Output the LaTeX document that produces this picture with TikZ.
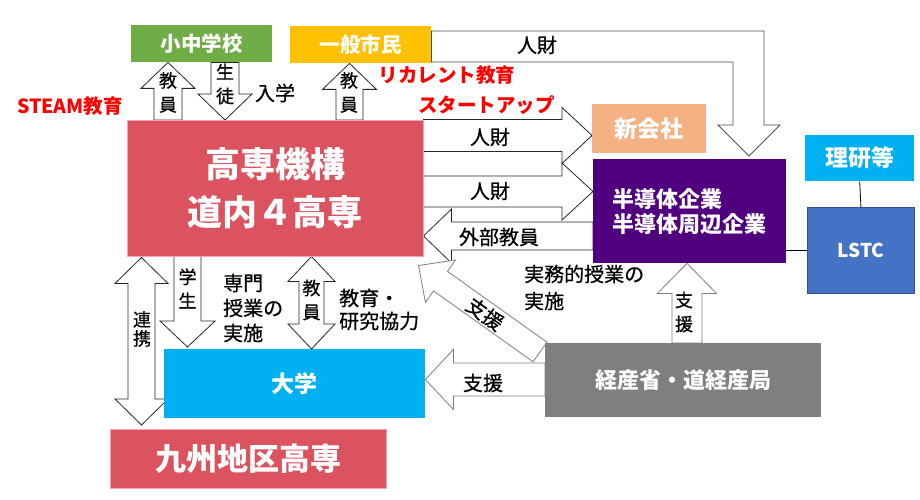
\documentclass[tikz,border=0pt]{standalone}
\usepackage{fontspec}
\setmainfont{Noto Sans CJK JP}
\newfontfamily\lblf[FakeBold=0.6]{Noto Sans CJK JP}
\usetikzlibrary{calc}
\definecolor{kred}{RGB}{220,83,96}
\definecolor{kgreen}{RGB}{112,173,71}
\definecolor{kyellow}{RGB}{255,192,0}
\definecolor{korange}{RGB}{244,177,131}
\definecolor{kpurple}{RGB}{80,0,126}
\definecolor{kcyan}{RGB}{0,176,240}
\definecolor{kblue}{RGB}{68,114,196}
\definecolor{kblueline}{RGB}{47,82,143}
\definecolor{kgray}{RGB}{127,127,127}
\definecolor{kpink}{RGB}{245,160,190}
\newcommand{\myfs}[2]{\fontsize{#1}{#2}\selectfont}
\pgfdeclarelayer{bgl}
\pgfdeclarelayer{arr}
\pgfsetlayers{bgl,arr,main}
\tikzset{
  box/.style={rectangle, inner sep=0pt, anchor=north west, text=white, align=center},
  lbl/.style={inner sep=0pt, align=left, font=\lblf\myfs{20}{25}},
  vlbl/.style={inner sep=0pt, align=center, font=\lblf\myfs{18}{24}},
  redlbl/.style={inner sep=0pt, text=red, font=\bfseries\myfs{19.5}{24}},
  blockarrow/.style={fill=white, draw=black!85, line width=0.8pt, line join=miter},
  grayarrow/.style={draw=kgray},
}
\newcommand{\blkarrow}[6][]{%
  \coordinate (bh) at ($(#3)!#6!(#2)$);
  \draw[blockarrow,#1] ($(#2)!#4!90:(#3)$) -- ($(bh)!#4!-90:(#2)$) -- ($(bh)!#5!-90:(#2)$) -- (#3) -- ($(bh)!#5!90:(#2)$) -- ($(bh)!#4!90:(#2)$) -- ($(#2)!#4!-90:(#3)$) -- cycle;}
\newcommand{\dblarrow}[6][]{%
  \coordinate (bhe) at ($(#3)!#6!(#2)$);
  \coordinate (bhs) at ($(#2)!#6!(#3)$);
  \draw[blockarrow,#1] (#2) -- ($(bhs)!#5!90:(#3)$) -- ($(bhs)!#4!90:(#3)$) -- ($(bhe)!#4!-90:(#2)$) -- ($(bhe)!#5!-90:(#2)$) -- (#3) -- ($(bhe)!#5!90:(#2)$) -- ($(bhe)!#4!90:(#2)$) -- ($(bhs)!#4!-90:(#3)$) -- ($(bhs)!#5!-90:(#3)$) -- cycle;}
\begin{document}
\begin{tikzpicture}[x=1pt,y=-1pt]
\begin{pgfonlayer}{bgl}
\fill[white] (0,0) rectangle (920,500);
\end{pgfonlayer}
\useasboundingbox (0,0) rectangle (920,500);

% boxes
\node[box, fill=kgreen, minimum width=141pt, minimum height=37pt, font=\bfseries\myfs{20.5}{24}] (shou) at (131,25) {小中学校};
\node[box, fill=kyellow, minimum width=141pt, minimum height=37pt, font=\bfseries\myfs{20.5}{24}] (ippan) at (290,26) {一般市民};
\node[box, fill=kred, draw=kpink, line width=0.5pt, minimum width=296pt, minimum height=136pt, font=\bfseries\myfs{35}{48}] (kosen) at (127,120) {高専機構\\道内４高専};
\node[box, fill=korange, minimum width=114pt, minimum height=49pt, font=\bfseries\myfs{23}{26}] (shin) at (592,104) {新会社};
\node[box, fill=kpurple, minimum width=193pt, minimum height=104pt, align=left, font=\bfseries\myfs{22}{25}] (han) at (593,159) {半導体企業\\半導体周辺企業};
\node[box, fill=kcyan, minimum width=109pt, minimum height=46pt, font=\bfseries\myfs{23}{26}] (riken) at (805,135) {理研等};
\node[box, fill=kblue, draw=kblueline, line width=0.8pt, minimum width=107pt, minimum height=86pt, font=\bfseries\myfs{19}{22}] (lstc) at (807,207) {LSTC};
\node[box, fill=kcyan, minimum width=261pt, minimum height=69pt, font=\bfseries\myfs{23}{26}] (dai) at (164,349) {大学};
\node[box, fill=kred, draw=kpink, line width=0.5pt, minimum width=276pt, minimum height=59pt, font=\bfseries\myfs{31}{34}] (kyushu) at (110,429) {九州地区高専};
\node[box, fill=kgray, minimum width=276pt, minimum height=74pt, font=\bfseries\myfs{22}{25}] (keisan) at (545,343) {経産省・道経産局};

% plain connectors
\draw[black, line width=0.8pt] (lstc.west -| han.east) -- (lstc.west);
\draw[black, line width=0.8pt] (riken.south) -- (lstc.north);

% arrow end points
\coordinate (a1s) at (168,0 |- kosen.north);
\coordinate (a1e) at (168,0 |- shou.south);
\coordinate (a2s) at (225,0 |- shou.south);
\coordinate (a2e) at (225,0 |- kosen.north);
\coordinate (a3s) at (349.5,0 |- kosen.north);
\coordinate (a3e) at (349.5,0 |- ippan.south);
\coordinate (a4s) at (kosen.east |- 0,135.5);
\coordinate (a4e) at (shin.west |- 0,135.5);
\coordinate (a5s) at (kosen.east |- 0,191.5);
\coordinate (a5e) at (han.west |- 0,191.5);
\coordinate (a6s) at (han.west |- 0,236);
\coordinate (a6e) at (kosen.east |- 0,236);
\coordinate (a7s) at ($(keisan.north west)+(-5,9)$);
\coordinate (a7e) at ($(kosen.south east)+(-5,9)$);
\coordinate (a8s) at (keisan.west |- 0,379.5);
\coordinate (a8e) at (dai.east |- 0,379.5);
\coordinate (a9s) at (687,0 |- keisan.north);
\coordinate (a9e) at (687,0 |- han.south);
\coordinate (a10s) at (187.5,0 |- kosen.south);
\coordinate (a10e) at ($(187.5,0 |- dai.north)+(0,-2)$);
\coordinate (a11s) at (311.5,0 |- kosen.south);
\coordinate (a11e) at (311.5,0 |- dai.north);
\coordinate (a12s) at ($(141.5,0 |- kosen.south)+(0,1)$);
\coordinate (a12e) at ($(141.5,0 |- kyushu.north)+(0,-4)$);

\begin{pgfonlayer}{arr}
% bent arrow from 一般市民
\draw[blockarrow, draw=black!70] (ippan.east |- 0,31) -- (764,31) -- (764,125) -- (780,125) -- (749,156) -- (718,125) -- (733,125) -- (733,62) -- (ippan.east |- 0,62) -- cycle;
\blkarrow{a1s}{a1e}{14pt}{27pt}{26pt}
\blkarrow{a2s}{a2e}{14pt}{27pt}{26pt}
\blkarrow{a3s}{a3e}{13.5pt}{27pt}{26pt}
\blkarrow{a4s}{a4e}{16pt}{28pt}{30pt}
\blkarrow{a5s}{a5e}{15.5pt}{28.5pt}{31pt}
\blkarrow{a6s}{a6e}{14pt}{27pt}{28pt}
\blkarrow[grayarrow]{a7s}{a7e}{12pt}{26pt}{27pt}
\blkarrow[grayarrow]{a8s}{a8e}{16.5pt}{30pt}{28pt}
\blkarrow[grayarrow]{a9s}{a9e}{15pt}{29.5pt}{30pt}
\blkarrow{a10s}{a10e}{13.5pt}{27.5pt}{26pt}
\dblarrow{a11s}{a11e}{12.5pt}{23.5pt}{25pt}
\dblarrow{a12s}{a12e}{13.5pt}{26.5pt}{26pt}
\end{pgfonlayer}

% arrow labels
\node[vlbl] (t1) at (168,92.5) {教\\員};
\node[vlbl] (t2) at (225,84) {生\\徒};
\node[lbl] (t2b) at (275,93) {入学};
\node[vlbl] (t3) at (349,92.5) {教\\員};
\node[lbl] (t4) at (537,45) {人財};
\node[lbl] (t5) at (490,137) {人財};
\node[lbl] (t6) at (490,191) {人財};
\node[lbl] (t7) at (499,237) {外部教員};
\node[lbl, rotate=-35.5] (t8) at (485,314) {支援};
\node[lbl] (t9) at (483,383) {支援};
\node[vlbl] (t10) at (684,312) {支\\援};
\node[lbl, anchor=west, font=\lblf\myfs{20}{27}] (t11) at (524,287.5) {実務的授業の\\実施};
\node[vlbl] (t12) at (187.5,288.5) {学\\生};
\node[lbl, anchor=west] (t13) at (223,308) {専門\\授業の\\実施};
\node[vlbl] (t14) at (311.5,300) {教\\員};
\node[lbl, anchor=west, font=\lblf\myfs{20}{23}] (t15) at (339,309.5) {教育・\\研究協力};
\node[vlbl, font=\lblf\myfs{18}{19}] (t16) at (142,329) {連\\携};

% red labels
\node[redlbl] (r1) at (70,106) {STEAM教育};
\node[redlbl] (r2) at (447,75) {リカレント教育};
\node[redlbl] (r3) at (486.5,105) {スタートアップ};
\end{tikzpicture}
\end{document}
